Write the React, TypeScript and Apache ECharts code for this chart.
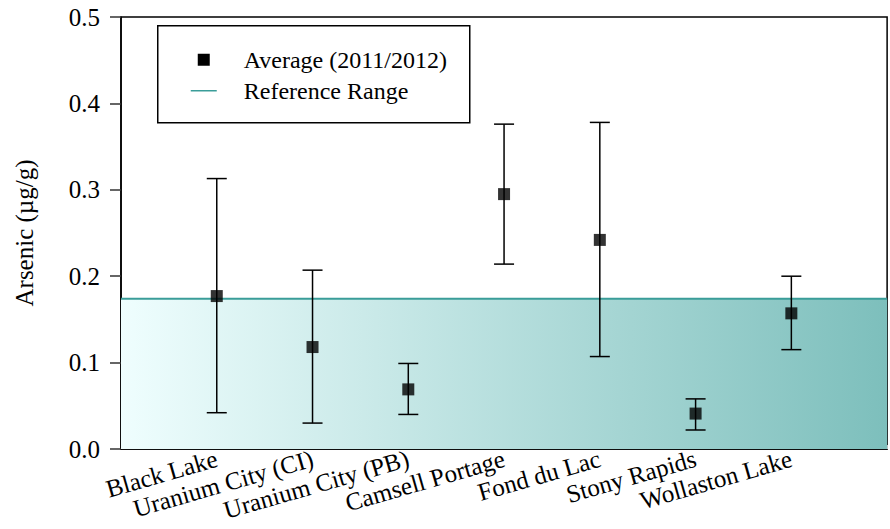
import React, { useEffect, useRef } from "react";
import * as echarts from "echarts";

// Sampling sites along the x axis (positions 1..7)
const sites = [
  "Black Lake",
  "Uranium City (CI)",
  "Uranium City (PB)",
  "Camsell Portage",
  "Fond du Lac",
  "Stony Rapids",
  "Wollaston Lake",
];

// Arsenic concentrations (µg/g)
const averages = [0.177, 0.118, 0.069, 0.295, 0.242, 0.041, 0.157];
const upperBounds = [0.313, 0.207, 0.099, 0.376, 0.378, 0.058, 0.2];
const lowerBounds = [0.042, 0.03, 0.04, 0.214, 0.107, 0.022, 0.115];

// Upper limit of the reference range
const referenceLimit = 0.174;

const yTicks = [0, 0.1, 0.2, 0.3, 0.4, 0.5];

const FONT = "Liberation Serif";
const TEAL = "#3a9d99";

export default function App() {
  const ref = useRef<HTMLDivElement>(null);

  useEffect(() => {
    if (!ref.current) return;
    const chart = echarts.init(ref.current, null, { renderer: "svg" });

    const avgData = sites.map((_, i) => [i + 1, averages[i]]);
    const errData = sites.map((_, i) => [i + 1, lowerBounds[i], upperBounds[i]]);

    chart.setOption({
      animation: false,
      backgroundColor: "#fff",
      textStyle: { fontFamily: FONT },
      grid: {
        left: 121,
        right: 1,
        top: 17,
        bottom: 80,
        show: true,
        borderColor: "#000",
        borderWidth: 1.5,
        backgroundColor: "transparent",
      },
      xAxis: {
        type: "value",
        min: 0,
        max: sites.length + 1,
        interval: 1,
        splitLine: { show: false },
        axisLine: { show: true, lineStyle: { color: "#000", width: 1.5 } },
        axisTick: { show: true, inside: true, length: 4, lineStyle: { color: "#c8c8c8" } },
        axisLabel: {
          rotate: 16,
          margin: 9,
          fontFamily: FONT,
          fontSize: 25,
          color: "#000",
          formatter: (v: number) => sites[v - 1] ?? "",
        },
      },
      yAxis: {
        type: "value",
        min: yTicks[0],
        max: yTicks[yTicks.length - 1],
        interval: 0.1,
        name: "Arsenic (µg/g)",
        nameLocation: "middle",
        nameGap: 84,
        nameTextStyle: { fontFamily: FONT, fontSize: 25, color: "#000" },
        splitLine: { show: false },
        axisLine: { show: true, lineStyle: { color: "#000", width: 1.5 } },
        axisTick: { show: true, inside: false, length: 11, lineStyle: { color: "#333", width: 1.5 } },
        axisLabel: {
          margin: 21,
          fontFamily: FONT,
          fontSize: 25,
          color: "#000",
          formatter: (v: number) => v.toFixed(1),
        },
      },
      series: [
        {
          name: "Reference Range",
          type: "line",
          data: [
            [0, referenceLimit],
            [sites.length + 1, referenceLimit],
          ],
          symbol: "none",
          z: 1,
          lineStyle: { color: TEAL, width: 2 },
          areaStyle: {
            opacity: 1,
            color: new echarts.graphic.LinearGradient(0, 0, 1, 0, [
              { offset: 0, color: "#effefe" },
              { offset: 1, color: "#7dbfbc" },
            ]),
          },
        },
        {
          name: "Range",
          type: "custom",
          z: 3,
          data: errData,
          renderItem: (params: any, api: any) => {
            const x = api.value(0);
            const lo = api.coord([x, api.value(1)]);
            const hi = api.coord([x, api.value(2)]);
            const hw = 10;
            const style = { stroke: "#000", lineWidth: 1.5 };
            return {
              type: "group",
              children: [
                { type: "line", shape: { x1: lo[0], y1: lo[1], x2: hi[0], y2: hi[1] }, style },
                { type: "line", shape: { x1: hi[0] - hw, y1: hi[1], x2: hi[0] + hw, y2: hi[1] }, style },
                { type: "line", shape: { x1: lo[0] - hw, y1: lo[1], x2: lo[0] + hw, y2: lo[1] }, style },
              ],
            };
          },
        },
        {
          name: "Average (2011/2012)",
          type: "scatter",
          z: 4,
          symbol: "rect",
          symbolSize: 12,
          itemStyle: { color: "#000" },
          data: avgData,
        },
      ],
      graphic: [
        {
          type: "group",
          left: 157,
          top: 25,
          children: [
            {
              type: "rect",
              shape: { x: 0, y: 0, width: 312, height: 97 },
              style: { fill: "#fff", stroke: "#000", lineWidth: 1.5 },
            },
            {
              type: "rect",
              shape: { x: 40, y: 28, width: 12, height: 12 },
              style: { fill: "#000" },
            },
            {
              type: "line",
              shape: { x1: 33, y1: 65, x2: 59, y2: 65 },
              style: { stroke: TEAL, lineWidth: 1.5 },
            },
            {
              type: "text",
              x: 86,
              y: 34,
              style: {
                text: "Average (2011/2012)",
                font: `24px ${FONT}`,
                fill: "#000",
                verticalAlign: "middle",
              },
            },
            {
              type: "text",
              x: 86,
              y: 65,
              style: {
                text: "Reference Range",
                font: `24px ${FONT}`,
                fill: "#000",
                verticalAlign: "middle",
              },
            },
          ],
        },
      ],
    });

    return () => chart.dispose();
  }, []);

  return (
    <div
      ref={ref}
      style={{ position: "fixed", left: 0, top: 0, width: 890, height: 529 }}
    />
  );
}
